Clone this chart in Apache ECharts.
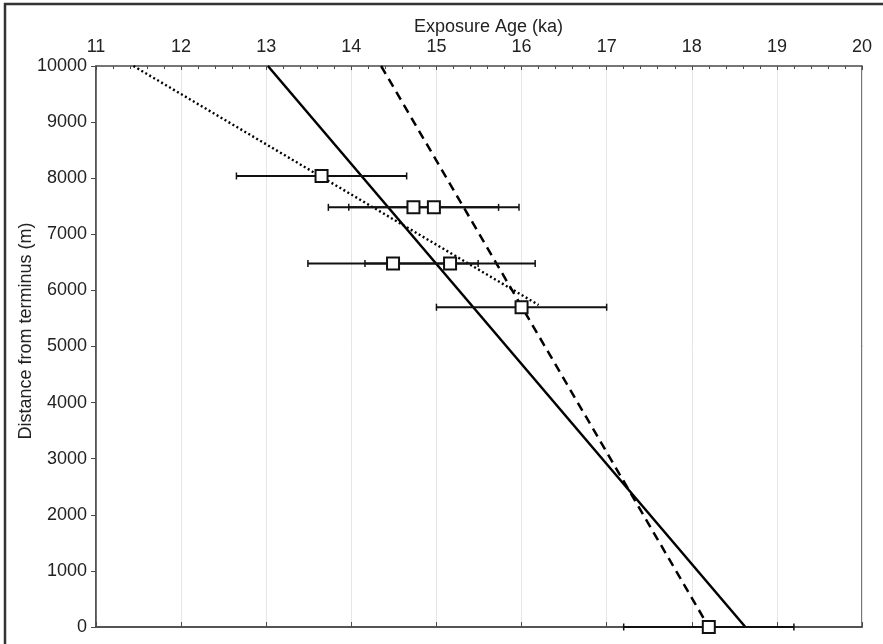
<!DOCTYPE html>
<html>
<head>
<meta charset="utf-8">
<script src="https://cdn.jsdelivr.net/npm/echarts@6/dist/echarts.min.js"></script>
<style>
html,body{margin:0;padding:0;background:#fff;}
#chart{width:883px;height:644px;}
</style>
</head>
<body>
<div id="chart"></div>
<script>
// Data
const ages = [13.65, 14.73, 14.97, 14.49, 15.16, 16.0, 18.2];       // ka
const distances = [8040, 7480, 7480, 6480, 6480, 5700, 0];         // m
const ageErrors = [1.0, 1.0, 1.0, 1.0, 1.0, 1.0, 1.0];             // ka

const solidLine = [[13.02, 10000], [18.63, 0]];
const dashedLine = [[14.35, 10000], [18.2, 0]];
const dottedLine = [[11.44, 10000], [16.2, 5740]];

const xTicks = [11, 12, 13, 14, 15, 16, 17, 18, 19, 20];
const yTicks = [0, 1000, 2000, 3000, 4000, 5000, 6000, 7000, 8000, 9000, 10000];

const xTitle = 'Exposure Age (ka)';
const yTitle = 'Distance from terminus (m)';

const points = ages.map((a, i) => [a, distances[i]]);
const errData = ages.map((a, i) => [a, distances[i], ageErrors[i]]);

const FONT = '"Liberation Sans", Arial, sans-serif';
const chart = echarts.init(document.getElementById('chart'));

chart.setOption({
  animation: false,
  backgroundColor: '#fff',
  textStyle: { fontFamily: FONT },
  grid: {
    left: 96, top: 66, right: 21, bottom: 17,
    show: true, borderColor: '#4a4a4a', borderWidth: 1.5, backgroundColor: 'transparent'
  },
  xAxis: [
    {
      type: 'value', position: 'top',
      min: xTicks[0], max: xTicks[xTicks.length - 1], interval: 1,
      axisLine: { show: true, lineStyle: { color: '#4a4a4a', width: 1.5 } },
      axisTick: { show: true, inside: false, length: 5, lineStyle: { color: '#4a4a4a', width: 1 } },
      axisLabel: { show: true, fontSize: 18, color: '#222', margin: 10, fontFamily: FONT,
                   formatter: v => String(v) },
      splitLine: { show: true, lineStyle: { color: '#e6e6e6', width: 1 } }
    },
    {
      type: 'value', position: 'top',
      min: xTicks[0], max: xTicks[xTicks.length - 1], interval: 1,
      axisLine: { show: false },
      axisTick: { show: true, inside: true, length: 4, lineStyle: { color: '#4a4a4a', width: 1 } },
      minorTick: { show: true, splitNumber: 5, length: 3, lineStyle: { color: '#4a4a4a', width: 1 } },
      axisLabel: { show: false },
      splitLine: { show: false }
    }
  ],
  yAxis: [
    {
      type: 'value', position: 'left',
      min: yTicks[0], max: yTicks[yTicks.length - 1], interval: 1000,
      axisLine: { show: true, lineStyle: { color: '#4a4a4a', width: 1.5 } },
      axisTick: { show: true, inside: false, length: 5, lineStyle: { color: '#4a4a4a', width: 1 } },
      axisLabel: { show: true, fontSize: 18, color: '#222', margin: 9, fontFamily: FONT,
                   formatter: v => String(v) },
      splitLine: { show: false }
    }
  ],
  graphic: [
    { type: 'line', shape: { x1: 5, y1: 3, x2: 5, y2: 644 }, style: { stroke: '#333', lineWidth: 2.5 }, z: 100 },
    { type: 'line', shape: { x1: 4, y1: 4, x2: 883, y2: 4 }, style: { stroke: '#333', lineWidth: 2.5 }, z: 100 },
    { type: 'text', left: 414, top: 18, style: { text: xTitle, fontSize: 18, fill: '#222', fontFamily: FONT } },
    { type: 'text', x: 17, y: 331, rotation: Math.PI / 2,
      style: { text: yTitle, fontSize: 18, fill: '#222', fontFamily: FONT, align: 'center', verticalAlign: 'top' } }
  ],
  series: [
    {
      type: 'line', data: solidLine, xAxisIndex: 0, yAxisIndex: 0,
      symbol: 'none', lineStyle: { color: '#000', width: 2.5, type: 'solid' }, z: 2, silent: true
    },
    {
      type: 'line', data: dashedLine, xAxisIndex: 0, yAxisIndex: 0,
      symbol: 'none', lineStyle: { color: '#000', width: 2.5, type: [9, 6] }, z: 2, silent: true
    },
    {
      type: 'line', data: dottedLine, xAxisIndex: 0, yAxisIndex: 0,
      symbol: 'none', lineStyle: { color: '#000', width: 2.4, type: [2, 2.6] }, z: 2, silent: true
    },
    {
      type: 'custom', xAxisIndex: 0, yAxisIndex: 0, data: errData, clip: false, z: 3,
      renderItem: function (params, api) {
        const x = api.value(0), y = api.value(1), e = api.value(2);
        const p1 = api.coord([x - e, y]);
        const p2 = api.coord([x + e, y]);
        const cap = 3.5;
        const st = { stroke: '#111', lineWidth: 2 };
        const ct = { stroke: '#111', lineWidth: 1.5 };
        return {
          type: 'group',
          children: [
            { type: 'line', shape: { x1: p1[0], y1: p1[1], x2: p2[0], y2: p2[1] }, style: st },
            { type: 'line', shape: { x1: p1[0], y1: p1[1] - cap, x2: p1[0], y2: p1[1] + cap }, style: ct },
            { type: 'line', shape: { x1: p2[0], y1: p2[1] - cap, x2: p2[0], y2: p2[1] + cap }, style: ct }
          ]
        };
      }
    },
    {
      type: 'scatter', data: points, xAxisIndex: 0, yAxisIndex: 0,
      symbol: 'rect', symbolSize: 12, clip: false, z: 5,
      itemStyle: { color: '#fff', borderColor: '#111', borderWidth: 2, opacity: 1 }
    }
  ]
});
</script>
</body>
</html>
